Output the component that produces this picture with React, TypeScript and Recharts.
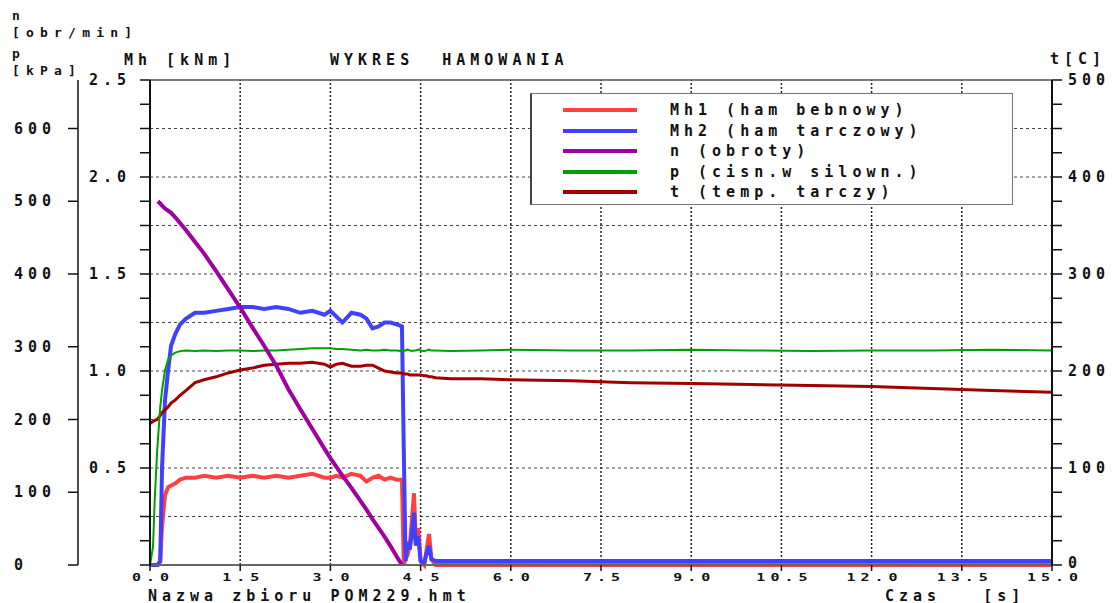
import React from 'react';
import { LineChart, Line, XAxis, YAxis, ReferenceLine } from 'recharts';

// time [s]
const TIME = [0, 0.05, 0.08, 0.12, 0.13, 0.17, 0.2, 0.25, 0.3, 0.35, 0.42, 0.5, 0.6, 0.75, 0.9, 1.1, 1.3, 1.5, 1.7, 1.9, 2.1, 2.3, 2.5, 2.7, 2.9, 3.0, 3.1, 3.2, 3.35, 3.5, 3.6, 3.7, 3.8, 3.9, 4.0, 4.1, 4.19, 4.22, 4.25, 4.28, 4.32, 4.36, 4.39, 4.42, 4.46, 4.5, 4.56, 4.6, 4.64, 4.68, 4.75, 5.0, 5.5, 6, 7, 8, 9, 10, 11, 12, 13, 14, 15];
// Mh1 [kNm]
const MH1 = [0, 0, 0, 0, 0, 0.02, 0.2, 0.36, 0.4, 0.41, 0.42, 0.44, 0.45, 0.45, 0.46, 0.45, 0.46, 0.45, 0.46, 0.45, 0.46, 0.45, 0.46, 0.47, 0.45, 0.45, 0.46, 0.45, 0.47, 0.46, 0.43, 0.45, 0.46, 0.44, 0.45, 0.44, 0.44, 0, 0.03, 0.05, 0.1, 0.25, 0.37, 0.12, 0.19, 0.02, 0, 0.08, 0.16, 0.03, 0, 0, 0, 0, 0, 0, 0, 0, 0, 0, 0, 0, 0];
// Mh2 [kNm]
const MH2 = [0, 0, 0, 0, 0, 0.02, 0.5, 0.85, 1.0, 1.13, 1.19, 1.24, 1.27, 1.3, 1.3, 1.31, 1.32, 1.33, 1.33, 1.32, 1.33, 1.32, 1.3, 1.31, 1.29, 1.31, 1.28, 1.25, 1.3, 1.29, 1.27, 1.22, 1.23, 1.25, 1.25, 1.24, 1.23, 0.6, 0.02, 0.12, 0.08, 0.18, 0.27, 0.1, 0.15, 0.02, 0.01, 0.06, 0.1, 0.03, 0.02, 0.02, 0.02, 0.02, 0.02, 0.02, 0.02, 0.02, 0.02, 0.02, 0.02, 0.02, 0.02];
// n [obr/min]
const N_RPM = [null, null, null, null, 500, 497, 494, 490, 487, 484, 478, 470, 460, 444, 428, 404, 379, 354, 327, 301, 274, 242, 214, 187, 160, 147, 135, 123, 106, 88, 76, 63, 51, 39, 26, 12, 0, null, null, null, null, null, null, null, null, null, null, null, null, null, null, null, null, null, null, null, null, null, null, null, null, null, null];
// p [kPa]
const P_KPA = [0, 25, 93, 158, 170, 217, 240, 268, 282, 288, 292, 294, 295, 294, 295, 294, 295, 295, 294, 295, 295, 296, 297, 298, 298, 298, 297, 297, 296, 295, 296, 295, 295, 296, 295, 295, 294, 295, 295, 296, 295, 294, 295, 295, 296, 295, 294, 295, 296, 295, 295, 294, 295, 296, 295, 295, 296, 295, 294, 295, 295, 296, 295];
// t [C]
const T_C = [146, 148, 149, 150, 151, 154, 157, 160, 163, 167, 170, 175, 180, 188, 191, 194, 198, 201, 203, 206, 207, 208, 208, 209, 207, 204, 207, 208, 205, 205, 206, 206, 203, 200, 199, 198, 198, 197, 197, 197, 196, 196, 196, 196, 196, 196, 195, 195, 194, 194, 193, 192, 192, 191, 190, 188, 187, 186, 185, 184, 182, 180, 178];

const X_TICKS = [0, 1.5, 3, 4.5, 6, 7.5, 9, 10.5, 12, 13.5, 15];
const X_GRID = [1.5, 3, 4.5, 6, 7.5, 9, 10.5, 12, 13.5];
const MH_TICKS = [0, 0.125, 0.25, 0.375, 0.5, 0.625, 0.75, 0.875, 1, 1.125, 1.25, 1.375, 1.5, 1.625, 1.75, 1.875, 2, 2.125, 2.25, 2.375, 2.5];
const MH_LABELS = [0.5, 1, 1.5, 2, 2.5];
const MH_GRID = [0.25, 0.5, 0.75, 1, 1.25, 1.5, 1.75, 2, 2.25];
const NP_TICKS = [0, 100, 200, 300, 400, 500, 600];
const T_TICKS = [0, 25, 50, 75, 100, 125, 150, 175, 200, 225, 250, 275, 300, 325, 350, 375, 400, 425, 450, 475, 500];
const T_LABELS = [0, 100, 200, 300, 400, 500];

const SERIES = [
  { key: 'mh1', label: 'Mh1 (ham bebnowy)', color: '#ff4040', axis: 'mh', width: 4 },
  { key: 'mh2', label: 'Mh2 (ham tarczowy)', color: '#4040ff', axis: 'mh', width: 4 },
  { key: 'n', label: 'n (obroty)', color: '#a000a0', axis: 'np', width: 4 },
  { key: 'p', label: 'p (cisn.w silown.)', color: '#00a000', axis: 'np', width: 2 },
  { key: 't', label: 't (temp. tarczy)', color: '#a00000', axis: 'temp', width: 3 },
];
const DRAW_ORDER = ['mh1', 'mh2', 't', 'p', 'n'];

const data = TIME.map((time, i) => ({
  time,
  mh1: MH1[i],
  mh2: MH2[i],
  n: N_RPM[i],
  p: P_KPA[i],
  t: T_C[i],
}));

const FONT = '"DejaVu Sans Mono", monospace';
const FS = 15;
const LS = 5;
const txt = { fontFamily: FONT, fontWeight: 700, fontSize: FS, letterSpacing: LS, fill: '#111' } as const;

const MhTick = (props: any) => {
  const { x, y, payload } = props;
  if (!MH_LABELS.includes(payload.value)) return null;
  return (
    <text x={x} y={y} textAnchor="end" dominantBaseline="central" {...txt}>
      {payload.value.toFixed(1)}
    </text>
  );
};
const NpTick = (props: any) => {
  const { x, y, payload } = props;
  return (
    <text x={x - 52} y={y} textAnchor="start" dominantBaseline="central" {...txt}>
      {payload.value}
    </text>
  );
};
const TTick = (props: any) => {
  const { x, y, payload } = props;
  if (!T_LABELS.includes(payload.value)) return null;
  return (
    <text x={x} y={payload.value === 0 ? y - 2 : y} textAnchor="start" dominantBaseline="central" {...txt}>
      {payload.value}
    </text>
  );
};
const XTick = (props: any) => {
  const { x, y, payload } = props;
  return (
    <text transform={`translate(${x + 3},${y + 6}) scale(1,0.72)`} textAnchor="middle" dominantBaseline="central" {...txt}>
      {payload.value.toFixed(1)}
    </text>
  );
};

const Label = ({ x, yc, text, fs = FS }: { x: number; yc: number; text: string; fs?: number }) => (
  <div
    style={{
      position: 'absolute',
      left: x,
      top: yc - 7,
      fontFamily: FONT,
      fontWeight: 700,
      fontSize: fs,
      lineHeight: '14px',
      letterSpacing: LS + (FS - fs) * 0.6,
      whiteSpace: 'pre',
      color: '#111',
    }}
  >
    {text}
  </div>
);

export default function App() {
  return (
    <div style={{ position: 'absolute', left: 0, top: 0, width: 1112, height: 603, background: '#fff' }}>
      <LineChart width={1112} height={603} data={data} margin={{ top: 80, right: 0, bottom: 0, left: 0 }}>
        <XAxis
          dataKey="time"
          type="number"
          domain={[0, 15]}
          ticks={X_TICKS}
          height={38}
          tick={<XTick />}
          tickSize={6}
          tickMargin={0}
          axisLine={{ stroke: '#666', strokeWidth: 2 }}
          tickLine={{ stroke: '#111', strokeWidth: 1.5 }}
          interval={0}
        />
        <YAxis
          yAxisId="mh"
          orientation="left"
          width={72}
          domain={[0, 2.5]}
          ticks={MH_TICKS}
          interval={0}
          tick={<MhTick />}
          tickSize={10}
          tickMargin={9}
          axisLine={{ stroke: '#111', strokeWidth: 2 }}
          tickLine={{ stroke: '#111', strokeWidth: 1.5 }}
        />
        <YAxis
          yAxisId="np"
          orientation="left"
          width={78}
          domain={[0, 2000 / 3]}
          ticks={NP_TICKS}
          interval={0}
          tick={<NpTick />}
          tickSize={10}
          tickMargin={2}
          axisLine={{ stroke: '#111', strokeWidth: 1.5 }}
          tickLine={{ stroke: '#111', strokeWidth: 1.5 }}
        />
        <YAxis
          yAxisId="temp"
          orientation="right"
          width={60}
          domain={[0, 500]}
          ticks={T_TICKS}
          interval={0}
          tick={<TTick />}
          tickSize={10}
          tickMargin={6}
          axisLine={{ stroke: '#111', strokeWidth: 2 }}
          tickLine={{ stroke: '#111', strokeWidth: 1.5 }}
        />
        {MH_GRID.map((v) => (
          <ReferenceLine key={'h' + v} yAxisId="mh" y={v} stroke="#444" strokeDasharray="3 3" strokeWidth={1} />
        ))}
        {X_GRID.map((v) => (
          <ReferenceLine key={'v' + v} yAxisId="mh" x={v} stroke="#222" strokeDasharray="2 2" strokeWidth={1.5} />
        ))}
        <ReferenceLine yAxisId="mh" y={2.5} stroke="#555" strokeWidth={1.5} />
        {DRAW_ORDER.map((k) => {
          const s = SERIES.find((q) => q.key === k)!;
          return (
            <Line
              key={k}
              yAxisId={s.axis}
              dataKey={s.key}
              type="linear"
              stroke={s.color}
              strokeWidth={s.width}
              dot={false}
              activeDot={false}
              isAnimationActive={false}
              connectNulls={false}
            />
          );
        })}
      </LineChart>

      <Label x={12} yc={16} text="n" fs={13} />
      <Label x={12} yc={33} text="[obr/min]" fs={13} />
      <Label x={12} yc={54} text="p" fs={13} />
      <Label x={12} yc={71} text="[kPa]" fs={13} />
      <Label x={124} yc={60} text="Mh [kNm]" />
      <Label x={330} yc={60} text="WYKRES  HAMOWANIA" />
      <Label x={1050} yc={59} text="t[C]" />
      <Label x={148} yc={596} text="Nazwa zbioru POM229.hmt" />
      <Label x={885} yc={596} text="Czas   [s]" />

      <div
        style={{
          position: 'absolute',
          left: 530,
          top: 93,
          width: 480,
          height: 110,
          border: '1px solid #777',
          borderLeft: '2px solid #444',
          background: '#fff',
        }}
      >
        {SERIES.map((s, i) => (
          <div key={s.key}>
            <div
              style={{
                position: 'absolute',
                left: 31,
                top: 14 + i * 20.5,
                width: 74,
                height: 4,
                background: s.color,
              }}
            />
            <div
              style={{
                position: 'absolute',
                left: 138,
                top: 9 + i * 20.5,
                fontFamily: FONT,
                fontWeight: 700,
                fontSize: FS,
                lineHeight: '14px',
                letterSpacing: LS,
                whiteSpace: 'pre',
                color: '#111',
              }}
            >
              {s.label}
            </div>
          </div>
        ))}
      </div>
    </div>
  );
}
